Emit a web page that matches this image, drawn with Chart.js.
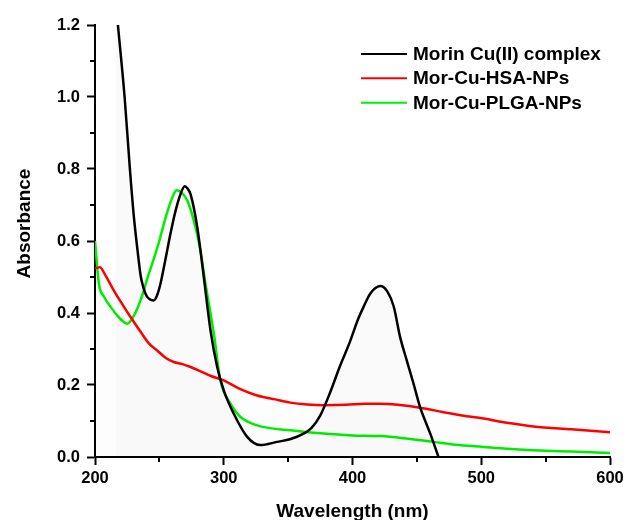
<!DOCTYPE html>
<html>
<head>
<meta charset="utf-8">
<script src="https://cdn.jsdelivr.net/npm/chart.js@4/dist/chart.umd.min.js"></script>
<style>
  html, body { margin: 0; padding: 0; background: #fff; }
  #wrap { width: 629px; height: 520px; }
</style>
</head>
<body>
<div id="wrap"><canvas id="c" width="629" height="520"></canvas></div>
<script>
// UV-Vis absorbance spectra
const seriesNames = ['Morin Cu(II) complex', 'Mor-Cu-HSA-NPs', 'Mor-Cu-PLGA-NPs'];
const seriesColors = ['#000000', '#ff0000', '#00ee00'];

const complexWl  = [216, 217.8, 223, 227.1, 230.2, 233, 235.4, 237.5, 240, 242.5, 245.7, 248, 250.9, 254.5, 258.6, 262.5, 266.4, 269.7, 272, 274.2, 279.4, 284.5, 289.7, 294.9, 300, 307.8, 318.2, 328.5, 341.4, 352, 362, 368, 374.9, 382.7, 390, 398.2, 404, 408.6, 414, 421.6, 427, 432, 437, 442, 447.4, 452.6, 456.5, 460.4, 466.8];
const complexAbs = [1.27, 1.2, 1.0, 0.8, 0.667, 0.575, 0.505, 0.472, 0.448, 0.438, 0.435, 0.447, 0.482, 0.545, 0.62, 0.683, 0.73, 0.752, 0.745, 0.73, 0.639, 0.5, 0.352, 0.25, 0.185, 0.12, 0.056, 0.033, 0.042, 0.05, 0.065, 0.08, 0.115, 0.18, 0.25, 0.322, 0.38, 0.417, 0.455, 0.475, 0.46, 0.418, 0.333, 0.27, 0.204, 0.137, 0.1, 0.065, 0.0];

const hsaWl  = [200, 203.8, 208, 215, 222, 227.6, 235, 242, 248.3, 255, 261.2, 268, 274.2, 282, 290, 300, 312, 325.9, 340, 351.7, 365, 377.4, 395, 410, 421.6, 435, 452.6, 470, 485, 501.7, 520, 540.5, 570, 600];
const hsaAbs = [0.524, 0.527, 0.505, 0.46, 0.42, 0.389, 0.35, 0.315, 0.296, 0.275, 0.264, 0.258, 0.25, 0.238, 0.225, 0.213, 0.19, 0.171, 0.16, 0.151, 0.146, 0.144, 0.145, 0.148, 0.148, 0.145, 0.137, 0.125, 0.115, 0.107, 0.095, 0.085, 0.077, 0.069];

const plgaWl  = [200, 203, 207, 212.1, 218, 222.4, 225, 229, 235.4, 241, 248.3, 256.1, 260, 263.3, 267, 271.6, 276.7, 281.9, 285.8, 292.3, 297.4, 305.2, 313, 325.9, 351.7, 377.4, 400, 421.6, 440, 463, 480, 501.7, 520, 540.5, 570, 600];
const plgaAbs = [0.6, 0.482, 0.445, 0.417, 0.39, 0.375, 0.37, 0.385, 0.435, 0.5, 0.58, 0.68, 0.72, 0.741, 0.735, 0.713, 0.657, 0.574, 0.482, 0.343, 0.213, 0.148, 0.111, 0.088, 0.074, 0.065, 0.06, 0.058, 0.052, 0.042, 0.034, 0.028, 0.023, 0.019, 0.015, 0.011];

const xMajorTicks = [200, 300, 400, 500, 600];
const xMinorTicks = [250, 350, 450, 550];
const yMajorTicks = [0.0, 0.2, 0.4, 0.6, 0.8, 1.0, 1.2];
const yMinorTicks = [0.1, 0.3, 0.5, 0.7, 0.9, 1.1];

const xTitle = 'Wavelength (nm)';
const yTitle = 'Absorbance';

const FONT = "'Liberation Sans', Arial, Helvetica, sans-serif";

const toPoints = (xs, ys) => xs.map((x, i) => ({ x: x, y: ys[i] }));

// Minor ticks, axis titles and the legend box
const decorations = {
  id: 'decorations',
  afterDraw(chart) {
    const ctx = chart.ctx;
    const xs = chart.scales.x, ys = chart.scales.y;
    const area = chart.chartArea;
    ctx.save();
    ctx.strokeStyle = '#000';
    ctx.lineWidth = 2;
    ctx.beginPath();
    xMinorTicks.forEach(v => {
      const px = Math.round(xs.getPixelForValue(v));
      ctx.moveTo(px, area.bottom);
      ctx.lineTo(px, area.bottom + 5);
    });
    yMinorTicks.forEach(v => {
      const py = Math.round(ys.getPixelForValue(v));
      ctx.moveTo(area.left, py);
      ctx.lineTo(area.left - 5, py);
    });
    ctx.stroke();

    // axis titles
    ctx.fillStyle = '#000';
    ctx.font = 'bold 19px ' + FONT;
    ctx.textAlign = 'center';
    ctx.textBaseline = 'alphabetic';
    ctx.fillText(xTitle, (area.left + area.right) / 2, 517);
    ctx.save();
    ctx.translate(29.5, 223.5);
    ctx.rotate(-Math.PI / 2);
    ctx.fillText(yTitle, 0, 0);
    ctx.restore();

    // legend
    const rows = [54, 78.3, 102.7];
    ctx.textAlign = 'left';
    chart.data.datasets.forEach((ds, i) => {
      const y = rows[i];
      ctx.strokeStyle = ds.borderColor;
      ctx.lineWidth = 2;
      ctx.beginPath();
      ctx.moveTo(361, y);
      ctx.lineTo(407, y);
      ctx.stroke();
      ctx.fillStyle = '#000';
      ctx.fillText(ds.label, 413, y + 6);
    });
    ctx.restore();
  }
};

new Chart(document.getElementById('c'), {
  type: 'line',
  data: {
    datasets: [
      {
        label: seriesNames[0],
        data: toPoints(complexWl, complexAbs),
        borderColor: seriesColors[0],
        backgroundColor: 'rgba(0,0,0,0.018)',
        fill: 'origin',
        borderWidth: 2.5,
        pointRadius: 0,
        cubicInterpolationMode: 'monotone'
      },
      {
        label: seriesNames[1],
        data: toPoints(hsaWl, hsaAbs),
        borderColor: seriesColors[1],
        backgroundColor: 'rgba(0,0,0,0.008)',
        fill: 'origin',
        borderWidth: 2.5,
        pointRadius: 0,
        cubicInterpolationMode: 'monotone'
      },
      {
        label: seriesNames[2],
        data: toPoints(plgaWl, plgaAbs),
        borderColor: seriesColors[2],
        borderWidth: 2.5,
        pointRadius: 0,
        fill: false,
        cubicInterpolationMode: 'monotone'
      }
    ]
  },
  options: {
    responsive: false,
    animation: false,
    devicePixelRatio: 1,
    layout: { padding: { top: 25, right: 19, left: 0, bottom: 0 } },
    plugins: { legend: { display: false }, tooltip: { enabled: false } },
    scales: {
      x: {
        type: 'linear',
        min: 200, max: 600,
        afterBuildTicks: s => { s.ticks = xMajorTicks.map(v => ({ value: v })); },
        afterFit: s => { s.height = 63; },
        grid: { display: true, drawOnChartArea: false, drawTicks: true, tickLength: 8, tickWidth: 2, tickColor: '#000' },
        border: { display: true, color: '#000', width: 2 },
        ticks: {
          color: '#000',
          padding: 4,
          maxRotation: 0,
          font: { family: FONT, size: 16.5, weight: 'bold' },
          callback: v => String(v)
        }
      },
      y: {
        min: 0, max: 1.2,
        afterBuildTicks: s => { s.ticks = yMajorTicks.map(v => ({ value: v })); },
        afterFit: s => { s.width = 95; },
        grid: { display: true, drawOnChartArea: false, drawTicks: true, tickLength: 8, tickWidth: 2, tickColor: '#000' },
        border: { display: true, color: '#000', width: 2 },
        ticks: {
          color: '#000',
          padding: 7,
          font: { family: FONT, size: 16.5, weight: 'bold' },
          callback: v => Number(v).toFixed(1)
        }
      }
    }
  },
  plugins: [decorations]
});
</script>
</body>
</html>
